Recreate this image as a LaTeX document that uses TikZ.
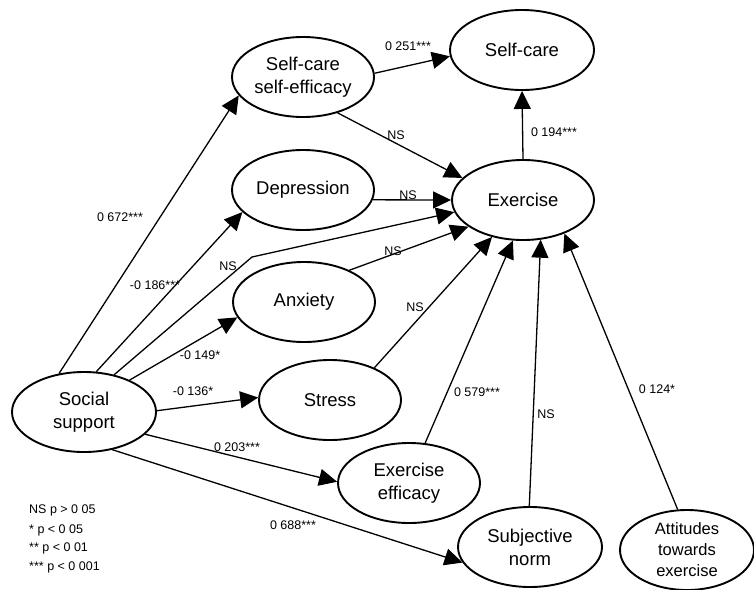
\documentclass[tikz,border=0pt]{standalone}
\usepackage{fontspec}
\setmainfont{Liberation Sans}
\usetikzlibrary{shapes.geometric,arrows.meta}
\begin{document}
\begin{tikzpicture}[x=1pt,y=-1pt,
 ell/.style={ellipse,draw,line width=1.9pt,minimum width=142pt,minimum height=80pt,inner sep=0pt,align=center,font=\fontsize{18.5}{23}\selectfont},
 lbl/.style={inner sep=0pt,font=\fontsize{12.5}{14}\selectfont},
 arr/.style={line width=1.3pt,-{Triangle[length=18pt,width=17pt]}},
 ]
\useasboundingbox (0,0) rectangle (754,589);
% nodes
\node[ell] (sce) at (303,77) {Self-care\\self-efficacy};
\node[ell] (dep) at (303,190) {Depression};
\node[ell] (anx) at (304,302) {Anxiety};
\node[ell,minimum width=144pt] (ss) at (84,412) {Social\\support};
\node[ell] (str) at (330,400) {Stress};
\node[ell] (eef) at (409,483) {Exercise\\efficacy};
\node[ell,minimum width=144pt] (sn) at (530,547) {Subjective\\norm};
\node[ell,minimum width=134pt,label={[font=\fontsize{16.5}{21}\selectfont,align=center]center:Attitudes\\towards\\exercise}] (att) at (687,550) {};
\node[ell,minimum width=144pt] (sc) at (522,50) {Self-care};
\node[ell] (ex) at (523,200) {Exercise};
\coordinate (bend) at (252,257);
% connectors
\draw[arr] (ss.123) -- (sce.196);
\draw[arr] (ss.73) -- (dep.200);
\draw[arr] (ss.51) -- (bend) -- (ex.190);
\draw[arr] (ss.35) -- (anx.193);
\draw[arr] (ss.1) -- (str.178);
\draw[arr] (ss.340) -- (eef.179);
\draw[arr] (ss.307) -- (sn.193);
\draw[arr] (sce.3) -- (sc.185);
\draw[arr] (sce.314) -- (ex.160);
\draw[arr] (dep.352) -- (ex.180);
\draw[arr] (anx.35) -- (ex.206);
\draw[arr] (str.36) -- (ex.230);
\draw[arr] (eef.68) -- (ex.256);
\draw[arr] (sn.91) -- (ex.294);
\draw[arr] (att.103) -- (ex.321);
\draw[arr] (ex.north) -- (sc.south);
% labels
\node[lbl] (l1) at (120,217) {0 672***};
\node[lbl] (l2) at (155,285) {-0 186***};
\node[lbl] (l3) at (228,266) {NS};
\node[lbl] (l4) at (200,355) {-0 149*};
\node[lbl] (l5) at (193,391) {-0 136*};
\node[lbl] (l6) at (237,447) {0 203***};
\node[lbl] (l7) at (293,525) {0 688***};
\node[lbl] (l8) at (408,46) {0 251***};
\node[lbl] (l9) at (396,135) {NS};
\node[lbl] (l10) at (408,195) {NS};
\node[lbl] (l11) at (393,251) {NS};
\node[lbl] (l12) at (415,307) {NS};
\node[lbl] (l13) at (477,392) {0 579***};
\node[lbl] (l14) at (546,414) {NS};
\node[lbl] (l15) at (657,389) {0 124*};
\node[lbl] (l16) at (554,132) {0 194***};
% legend
\node[lbl,anchor=west] (g1) at (29,510) {NS p > 0 05};
\node[lbl,anchor=west] (g2) at (29,530) {* p < 0 05};
\node[lbl,anchor=west] (g3) at (29,548) {** p < 0 01};
\node[lbl,anchor=west] (g4) at (29,567) {*** p < 0 001};
\end{tikzpicture}
\end{document}
